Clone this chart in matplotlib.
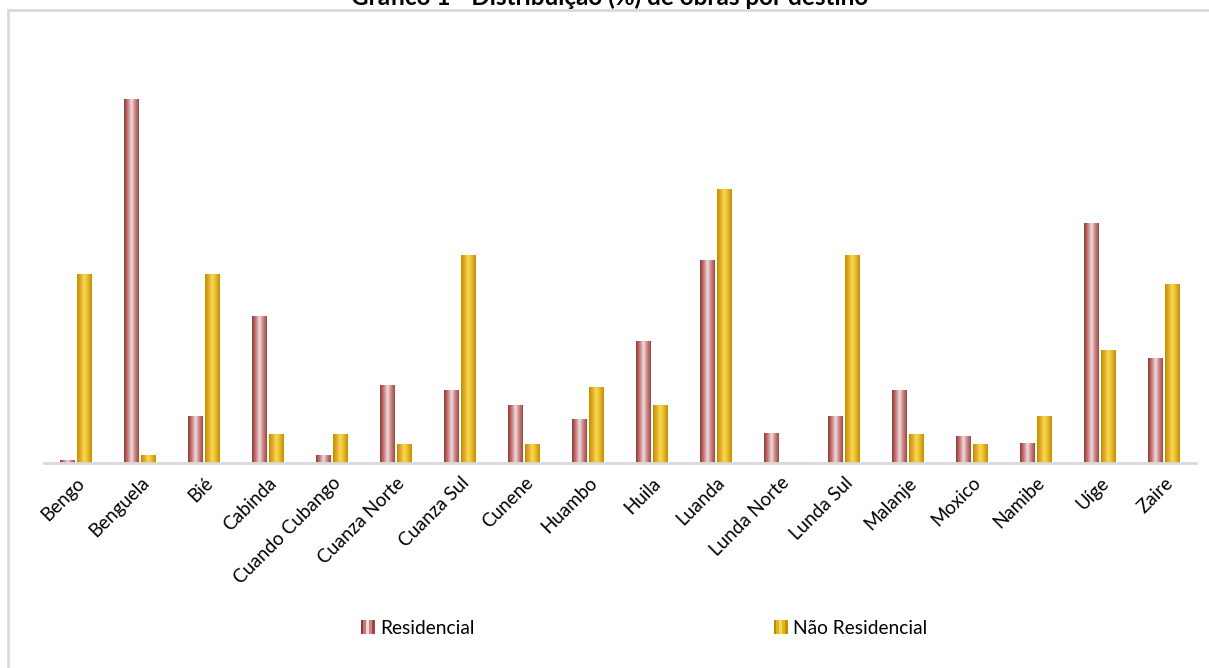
import numpy as np
import matplotlib
matplotlib.use("Agg")
from matplotlib import pyplot as plt
from matplotlib.patches import Rectangle
from matplotlib.legend_handler import HandlerTuple

plt.rcParams['font.family'] = ['Lato', 'DejaVu Sans']

provincias = ['Bengo', 'Benguela', 'Bié', 'Cabinda', 'Cuando Cubango', 'Cuanza Norte',
              'Cuanza Sul', 'Cunene', 'Huambo', 'Huila', 'Luanda', 'Lunda Norte',
              'Lunda Sul', 'Malanje', 'Moxico', 'Namibe', 'Uíge', 'Zaire']
residencial = [0.2, 21.5, 2.8, 8.7, 0.5, 4.6, 4.3, 3.4, 2.6, 7.2, 12.0, 1.8,
               2.8, 4.3, 1.6, 1.2, 14.2, 6.2]
nao_residencial = [11.2, 0.5, 11.2, 1.7, 1.7, 1.1, 12.3, 1.1, 4.5, 3.4, 16.2, 0.0,
                   12.3, 1.7, 1.1, 2.8, 6.7, 10.6]

# colour stops across the bar width (edge -> highlight -> edge)
grad_res = ['#9a3636', '#c27a7a', '#f3dcdc', '#c98888', '#a54545']
grad_nres = ['#bf8e00', '#e0b320', '#fbd85a', '#e2b525', '#c49200']


def gradient_img(stops, n=64):
    cmap = matplotlib.colors.LinearSegmentedColormap.from_list('g', stops)
    return cmap(np.linspace(0, 1, n))[np.newaxis, :, :]


fig = plt.figure(figsize=(12.09, 6.68), dpi=100)
W, H = 1209, 668
ax = fig.add_axes([44 / W, 1 - 463 / H, (1196 - 44) / W, (463 - 57) / H])

x = np.arange(len(provincias))
bw = 0.23
gap = 0.035
ymax = 24

for vals, offs, stops in [(residencial, -(bw + gap) / 2, grad_res),
                          (nao_residencial, (bw + gap) / 2, grad_nres)]:
    bars = ax.bar(x + offs, vals, width=bw, color='none', edgecolor='none')
    img = gradient_img(stops)
    for b in bars:
        if b.get_height() <= 0:
            continue
        x0 = b.get_x()
        im = ax.imshow(img, extent=[x0, x0 + b.get_width(), 0, b.get_height()],
                       aspect='auto', interpolation='bilinear', zorder=2)
        im.set_clip_path(b)

ax.set_xlim(-0.5, len(provincias) - 0.5)
ax.set_ylim(0, ymax)
ax.set_yticks([])
ax.set_xticks(x)
ax.set_xticklabels(provincias, rotation=45, ha='right', rotation_mode='anchor',
                   fontsize=13.5)
ax.tick_params(axis='x', length=0, pad=8)
for s in ['top', 'right', 'left']:
    ax.spines[s].set_visible(False)
ax.spines['bottom'].set_color('#d9d9d9')
ax.spines['bottom'].set_linewidth(2)
ax.spines['bottom'].set_zorder(3)

# chart area frame (left and top edges)
fig.add_artist(Rectangle((8 / W, -0.1), 1.2, 1 - 10 / H + 0.1, transform=fig.transFigure,
                         facecolor='none', edgecolor='#d9d9d9', linewidth=2))

fig.text(610 / W, 1 - 5 / H, 'Gráfico 1 - Distribuição (%) de obras por destino',
         ha='center', va='baseline', fontsize=17.5, fontweight='bold')


def stripe_handle(stops):
    return tuple(Rectangle((0, 0), 1, 1, facecolor=c, edgecolor='none') for c in stops)


h_res = stripe_handle(grad_res)
h_nres = stripe_handle(grad_nres)
leg_kw = dict(loc='center left', frameon=False, fontsize=13.8,
              handlelength=0.75, handleheight=0.8, handletextpad=0.25, borderpad=0,
              handler_map={tuple: HandlerTuple(ndivide=None, pad=0)})
fig.legend([h_res], ['Residencial'], bbox_to_anchor=(351 / W, 1 - 628 / H), **leg_kw)
fig.legend([h_nres], ['Não Residencial'], bbox_to_anchor=(764 / W, 1 - 628 / H), **leg_kw)

fig.savefig('out.png', dpi=100)
